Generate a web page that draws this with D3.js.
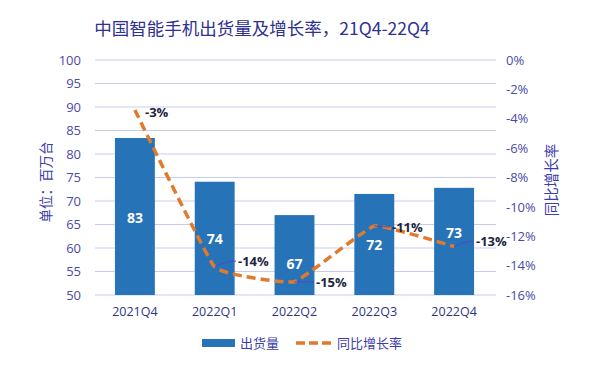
<!DOCTYPE html>
<html><head><meta charset="utf-8">
<script src="https://cdn.jsdelivr.net/npm/d3@7"></script>
<style>
html,body{margin:0;padding:0;background:#fff;}
text{font-family:"Noto Sans CJK SC","Noto Sans",sans-serif;}
</style></head>
<body><svg id="c" width="595" height="368"></svg>
<script>
const categories = ["2021Q4","2022Q1","2022Q2","2022Q3","2022Q4"];
const shipments = [83.4, 74.1, 67.0, 71.5, 72.8];
const shipmentLabels = ["83","74","67","72","73"];
const growth = [-3.4, -14.1, -15.1, -11.3, -12.7];
const growthLabels = ["-3%","-14%","-15%","-11%","-13%"];
const leftTicks = [50,55,60,65,70,75,80,85,90,95,100];
const rightTicks = [0,-2,-4,-6,-8,-10,-12,-14,-16];

const svg = d3.select("#c");
const W = 595, H = 368;
const m = {l:95, r:101, t:60, b:73};
const x = d3.scaleBand().domain(categories).range([m.l, W-m.r]).paddingInner(0.5).paddingOuter(0.25);
const y = d3.scaleLinear().domain([50,100]).range([H-m.b, m.t]);
const y2 = d3.scaleLinear().domain([-16,0]).range([H-m.b, m.t]);
const axisColor = "#4a4aa8";

// title
svg.append("text").attr("x", 262).attr("y", 35).attr("text-anchor","middle")
  .attr("font-size", 17.5).attr("fill", "#2e3192").text("中国智能手机出货量及增长率，21Q4-22Q4");

// gridlines
svg.append("g").selectAll("line").data(leftTicks).join("line")
  .attr("x1", m.l).attr("x2", W-m.r+2)
  .attr("y1", d=>y(d)).attr("y2", d=>y(d))
  .attr("stroke", "#c9cbee").attr("stroke-width", 1.2);

// left axis
const ga = svg.append("g").attr("transform", `translate(${m.l},0)`)
  .call(d3.axisLeft(y).tickValues(leftTicks).tickSize(0).tickPadding(14));
ga.select(".domain").remove();
ga.selectAll("text").attr("font-size", 13).attr("fill", axisColor)
  .style("font-family","'Open Sans','Noto Sans',sans-serif");

// right axis
const gr = svg.append("g").attr("transform", `translate(${W-m.r+10},0)`)
  .call(d3.axisRight(y2).tickValues(rightTicks).tickSize(0).tickPadding(2).tickFormat(d=>d+"%"));
gr.select(".domain").remove();
gr.selectAll("text").attr("font-size", 13).attr("fill", axisColor)
  .style("font-family","'Open Sans','Noto Sans',sans-serif");

// x axis
const gx = svg.append("g").attr("transform", `translate(0,${H-m.b})`)
  .call(d3.axisBottom(x).tickSize(0).tickPadding(12));
gx.select(".domain").remove();
gx.selectAll("text").attr("font-size", 12.5).attr("fill", "#2e3580")
  .style("font-family","'Open Sans','Noto Sans',sans-serif");

// axis titles
svg.append("text").attr("transform", `translate(51,182) rotate(-90)`).attr("text-anchor","middle")
  .attr("font-size", 13.5).attr("fill", "#3d3da8").text("单位：百万台");
svg.append("text").attr("transform", `translate(557,180) rotate(-90)`).attr("text-anchor","middle")
  .attr("font-size", 14.5).attr("fill", "#3d3da8").text("同比增长率");

// bars
svg.append("g").selectAll("rect").data(categories).join("rect")
  .attr("x", d=>x(d)).attr("width", x.bandwidth())
  .attr("y", (d,i)=>y(shipments[i])).attr("height", (d,i)=>y(50)-y(shipments[i]))
  .attr("fill", "#2673b8");

// bar labels
svg.append("g").selectAll("text").data(categories).join("text")
  .attr("x", d=>x(d)+x.bandwidth()/2)
  .attr("y", (d,i)=> [223,244,269,250,238][i])
  .attr("text-anchor","middle").attr("font-size", 14).attr("font-weight","bold").attr("fill","#fff")
  .style("font-family","'Open Sans','Noto Sans',sans-serif")
  .text((d,i)=>shipmentLabels[i]);

// line
const pts = categories.map((c,i)=>[x(c)+x.bandwidth()/2, y2(growth[i])]);
const line = d3.line().curve(d3.curveCardinal.tension(0.72));
svg.append("path").attr("d", line(pts)).attr("fill","none")
  .attr("stroke","#e07a2c").attr("stroke-width",3.5).attr("stroke-dasharray","9,5");

// leader lines & labels
const lblPos = [[145,117],[238,266],[316,287],[392,232],[476,246]];
const leaders = [false,true,true,true,true];
svg.append("g").selectAll("path").data(pts.filter((p,i)=>leaders[i])).join("path")
  .attr("d",(p,k)=>{const i=[1,2,3,4][k]; const lp=lblPos[i]; return `M${p[0]},${p[1]} Q${p[0]+10},${lp[1]-5} ${lp[0]-2},${lp[1]-5}`;})
  .attr("fill","none").attr("stroke","#4b4bd0").attr("stroke-width",1);
svg.append("g").selectAll("text").data(growthLabels).join("text")
  .attr("x",(d,i)=>lblPos[i][0]).attr("y",(d,i)=>lblPos[i][1])
  .attr("font-size",13).attr("font-weight","bold").attr("fill","#1d2640")
  .style("font-family","'Open Sans','Noto Sans',sans-serif")
  .text(d=>d);

// legend
svg.append("rect").attr("x",202).attr("y",339).attr("width",33).attr("height",8).attr("fill","#2673b8");
svg.append("text").attr("x",240).attr("y",348).attr("font-size",13).attr("fill","#3d3da8").text("出货量");
svg.append("line").attr("x1",296).attr("x2",332).attr("y1",343).attr("y2",343)
  .attr("stroke","#e07a2c").attr("stroke-width",3.5).attr("stroke-dasharray","9,4");
svg.append("text").attr("x",337).attr("y",348).attr("font-size",13).attr("fill","#3d3da8").text("同比增长率");
</script></body></html>
